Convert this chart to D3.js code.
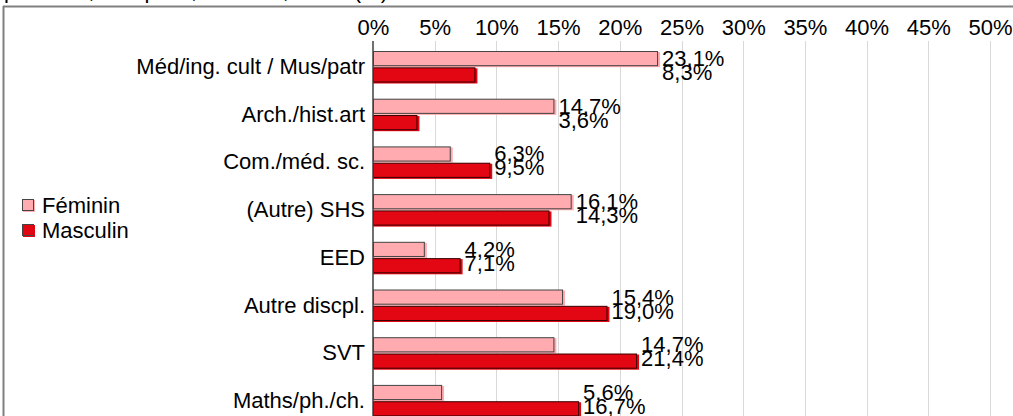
<!DOCTYPE html>
<html><head><meta charset="utf-8">
<script src="https://cdn.jsdelivr.net/npm/d3@7"></script>
<style>
html,body{margin:0;padding:0;background:#fff;overflow:hidden}
text{font-family:"Liberation Sans",Arial,sans-serif;fill:#000}
</style></head>
<body><svg id="c" width="1013" height="416"></svg>
<script>
const categories = ["Méd/ing. cult / Mus/patr","Arch./hist.art","Com./méd. sc.","(Autre) SHS","EED","Autre discpl.","SVT","Maths/ph./ch."];
const feminin = [23.1,14.7,6.3,16.1,4.2,15.4,14.7,5.6];
const masculin = [8.3,3.6,9.5,14.3,7.1,19.0,21.4,16.7];
const seriesNames = ["Féminin","Masculin"];
const tickValues = [0,5,10,15,20,25,30,35,40,45,50];
const titleText = "par sexe, discipline, en 2020, selon (%)";

const colors = ["#ffabaf","#e30613"];
const svg = d3.select("#c");
const fs = 22;

const x = d3.scaleLinear().domain([0,50]).range([373,990]);
const y = d3.scaleBand().domain(categories).range([42,42+8*47.7]).paddingInner(0).paddingOuter(0);

// clipped title remnant (only descenders visible above the frame)
svg.append("text").attr("x",4).attr("y",-2).style("font-size",fs+"px").text(titleText);

// frame
svg.append("line").attr("x1",3).attr("x2",1013).attr("y1",6.5).attr("y2",6.5).attr("stroke","#808080").attr("stroke-width",2);
svg.append("line").attr("x1",3.5).attr("x2",3.5).attr("y1",6).attr("y2",416).attr("stroke","#808080").attr("stroke-width",2);

// grid
svg.append("g").selectAll("line").data(tickValues.slice(1)).join("line")
  .attr("x1",d=>Math.round(x(d))+0.5).attr("x2",d=>Math.round(x(d))+0.5)
  .attr("y1",41).attr("y2",416).attr("stroke","#d9d9d9").attr("stroke-width",1);

// axis labels
const axis = d3.axisTop(x).tickValues(tickValues).tickFormat(d=>d+"%").tickSize(0).tickPadding(0);
const ga = svg.append("g").attr("transform","translate(0,35)").call(axis);
ga.select(".domain").remove();
ga.selectAll("text").style("font-size",fs+"px").attr("font-family","Liberation Sans, Arial, sans-serif").attr("fill","#000");

const sub = d3.scaleBand().domain([0,1]).range([9,40.5]).paddingInner(0.07);
const data = categories.map((c,i)=>({c,vals:[feminin[i],masculin[i]]}));

const rows = svg.append("g").selectAll("g").data(data).join("g")
  .attr("transform",d=>`translate(0,${y(d.c)})`);

[0,1].forEach(s=>{
  rows.append("rect").attr("x",x(0)).attr("y",sub(s)+1)
    .attr("width",d=>x(d.vals[s])-x(0)+2).attr("height",sub.bandwidth())
    .attr("fill",colors[s]);
  rows.append("rect").attr("x",x(0)+0.5).attr("y",sub(s)+0.5)
    .attr("width",d=>x(d.vals[s])-x(0)-1).attr("height",sub.bandwidth()-1)
    .attr("fill",colors[s]).attr("stroke",s===0?"#444":"#3a0000").attr("stroke-width",1);
});

// value labels
[0,1].forEach(s=>{
  rows.append("text")
    .attr("x",d=>x(Math.max(d.vals[0],d.vals[1]))+4)
    .attr("y",s===0?24:38)
    .style("font-size",fs+"px")
    .text(d=>d.vals[s].toFixed(1).replace(".",",")+"%");
});

// category labels
rows.append("text").attr("x",365).attr("y",32)
  .attr("text-anchor","end").style("font-size",fs+"px").text(d=>d.c);

// axis line
svg.append("line").attr("x1",373).attr("x2",373).attr("y1",41).attr("y2",416).attr("stroke","#404040").attr("stroke-width",1.5);

// legend
const lg = svg.append("g").selectAll("g").data(seriesNames).join("g")
  .attr("transform",(d,i)=>`translate(22,${199+i*25})`);
lg.append("rect").attr("x",1).attr("y",1).attr("width",12).attr("height",12).attr("fill",(d,i)=>colors[i]);
lg.append("rect").attr("x",0.5).attr("y",0.5).attr("width",11).attr("height",11).attr("fill",(d,i)=>colors[i]).attr("stroke","#444");
lg.append("text").attr("x",20).attr("y",14).style("font-size",fs+"px").text(d=>d);
</script></body></html>
